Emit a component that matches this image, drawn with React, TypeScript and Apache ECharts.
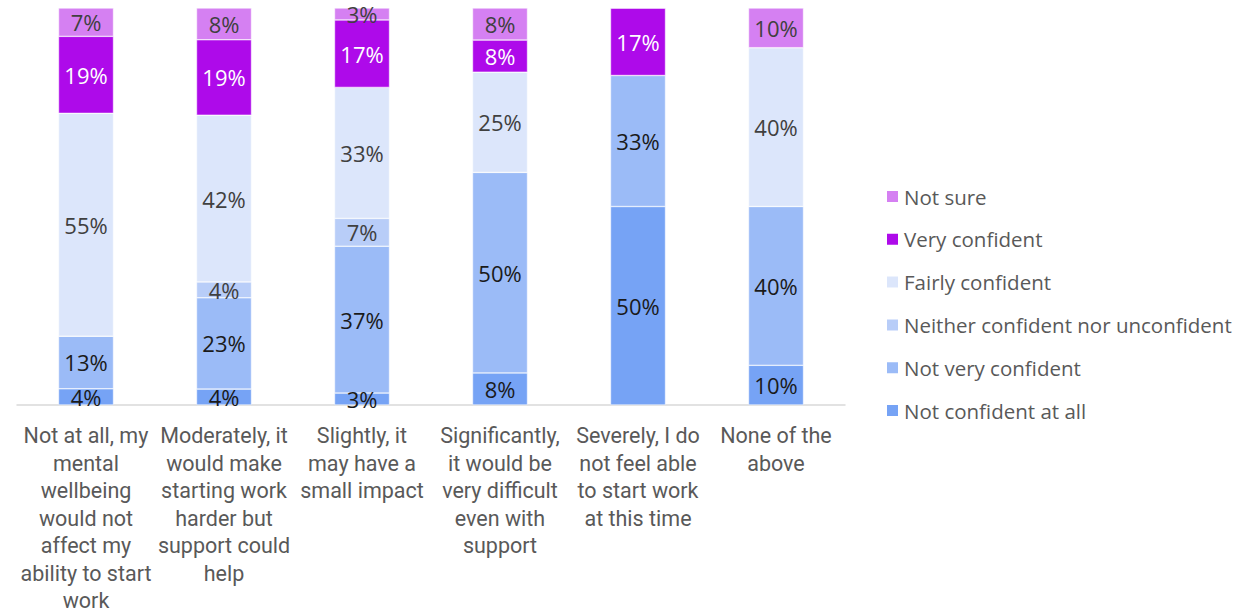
import React, { useEffect, useRef } from "react";
import * as echarts from "echarts";

const categories = [
  "Not at all, my\nmental\nwellbeing\nwould not\naffect my\nability to start\nwork",
  "Moderately, it\nwould make\nstarting work\nharder but\nsupport could\nhelp",
  "Slightly, it\nmay have a\nsmall impact",
  "Significantly,\nit would be\nvery difficult\neven with\nsupport",
  "Severely, I do\nnot feel able\nto start work\nat this time",
  "None of the\nabove",
];

// bottom to top
const seriesNames = [
  "Not confident at all",
  "Not very confident",
  "Neither confident nor unconfident",
  "Fairly confident",
  "Very confident",
  "Not sure",
];

const notConfidentAtAll = [4, 4, 3, 8, 50, 10];
const notVeryConfident = [13, 23, 37, 50, 33, 40];
const neither = [0, 4, 7, 0, 0, 0];
const fairlyConfident = [55, 42, 33, 25, 0, 40];
const veryConfident = [19, 19, 17, 8, 17, 0];
const notSure = [7, 8, 3, 8, 0, 10];

const colors = ["#76A3F5", "#9BBBF7", "#B8CDF8", "#DCE6FB", "#AE0AEA", "#D580F2"];
const labelColors = ["#1a1a1a", "#1a1a1a", "#404040", "#404040", "#ffffff", "#404040"];

const legendOrder = [
  "Not sure",
  "Very confident",
  "Fairly confident",
  "Neither confident nor unconfident",
  "Not very confident",
  "Not confident at all",
];

export default function App() {
  const ref = useRef<HTMLDivElement>(null);
  useEffect(() => {
    if (!ref.current) return;
    const chart = echarts.init(ref.current, null, { renderer: "svg" });
    const raw = [notConfidentAtAll, notVeryConfident, neither, fairlyConfident, veryConfident, notSure];
    const totals = categories.map((_, i) => raw.reduce((s, arr) => s + arr[i], 0));
    const font = "'Open Sans', 'Liberation Sans', sans-serif";
    chart.setOption({
      animation: false,
      grid: { left: 17, right: 394, top: 8, bottom: 210, containLabel: false },
      legend: {
        data: legendOrder,
        orient: "vertical",
        left: 880,
        top: 181,
        itemWidth: 13,
        itemHeight: 13,
        itemGap: 21.8,
        icon: "rect",
        textStyle: { fontSize: 20.5, color: "#595959", fontFamily: font, lineHeight: 20 },
      },
      xAxis: {
        type: "category",
        data: categories,
        axisLine: { lineStyle: { color: "#d9d9d9", width: 1.5 } },
        axisTick: { show: false },
        axisLabel: {
          interval: 0,
          fontSize: 21.5,
          lineHeight: 27.5,
          color: "#595959",
          fontFamily: "'Roboto', 'Open Sans', sans-serif",
          margin: 17,
        },
      },
      yAxis: {
        type: "value",
        min: 0,
        max: 100,
        show: false,
        splitLine: { show: false },
      },
      series: seriesNames.map((name, si) => ({
        name,
        type: "bar",
        stack: "total",
        barWidth: 55,
        itemStyle: { color: colors[si], borderColor: "#ffffff", borderWidth: 0.5 },
        label: {
          show: true,
          position: "inside",
          fontSize: 22,
          fontFamily: font,
          color: labelColors[si],
          formatter: (p: any) => (raw[si][p.dataIndex] ? raw[si][p.dataIndex] + "%" : ""),
        },
        data: raw[si].map((v, i) => (v ? (v / totals[i]) * 100 : 0)),
      })),
    });
    return () => chart.dispose();
  }, []);
  return (
    <div
      ref={ref}
      style={{ position: "absolute", left: 0, top: 0, width: 1239, height: 615 }}
    />
  );
}
